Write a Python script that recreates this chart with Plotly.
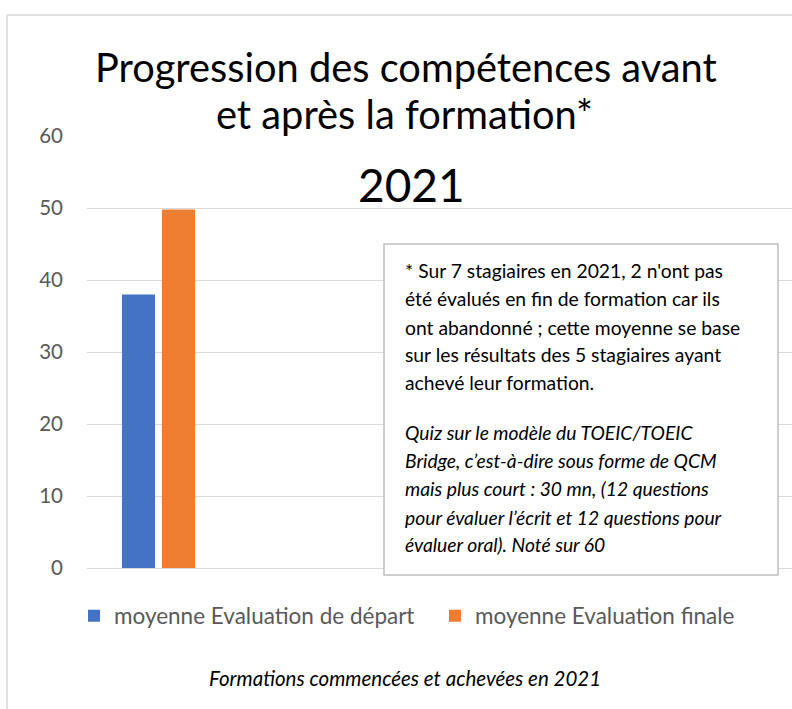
import plotly.graph_objects as go

# ---- data ----
categories = ["2021"]
series_names = ["moyenne Evaluation de départ", "moyenne Evaluation finale"]
depart_values = [38.0]
finale_values = [49.8]
y_ticks = [0, 10, 20, 30, 40, 50, 60]

title_lines = ["Progression des compétences avant", "et après la formation*"]
subtitle = "2021"
note_lines = [
    "* Sur 7 stagiaires en 2021, 2 n'ont pas",
    "été évalués en fin de formation car ils",
    "ont abandonné ; cette moyenne se base",
    "sur les résultats des 5 stagiaires ayant",
    "achevé leur formation.",
]
note_italic_lines = [
    "Quiz sur le modèle du TOEIC/TOEIC",
    "Bridge, c’est-à-dire sous forme de QCM",
    "mais plus court : 30 mn, (12 questions",
    "pour évaluer l’écrit et 12 questions pour",
    "évaluer oral). Noté sur 60",
]
footer = "Formations commencées et achevées en 2021"

# ---- layout geometry (pixels) ----
W, H = 792, 709
ML, MR, MT, MB = 87, 0, 136, 141
PW, PH = W - ML - MR, H - MT - MB


def px(x):
    return (x - ML) / PW


def py(y):
    return (H - MB - y) / PH


FONT = "Lato"
BLUE = "#4472C4"
ORANGE = "#ED7D31"
GREY = "#595959"
GRID = "#D9D9D9"

fig = go.Figure()
fig.add_trace(go.Bar(x=categories, y=depart_values, name=series_names[0],
                     marker=dict(color=BLUE, line=dict(width=0))))
fig.add_trace(go.Bar(x=categories, y=finale_values, name=series_names[1],
                     marker=dict(color=ORANGE, line=dict(width=0))))

annotations = []
# title
annotations.append(dict(text=title_lines[0], x=px(406), y=py(67), xref="paper", yref="paper",
                        showarrow=False, xanchor="center", yanchor="middle",
                        font=dict(family=FONT, size=39.8, color="#000000")))
annotations.append(dict(text=title_lines[1], x=px(404), y=py(113), xref="paper", yref="paper",
                        showarrow=False, xanchor="center", yanchor="middle",
                        font=dict(family=FONT, size=39.8, color="#000000")))
annotations.append(dict(text=subtitle, x=px(411), y=py(184), xref="paper", yref="paper",
                        showarrow=False, xanchor="center", yanchor="middle",
                        font=dict(family=FONT, size=46, color="#000000")))

# note box text
note_y = [270, 298, 327, 354, 382]
italic_y = [432, 460, 488, 517, 544]
for t, yy in zip(note_lines, note_y):
    annotations.append(dict(text=t, x=px(403), y=py(yy), xref="paper", yref="paper",
                            showarrow=False, xanchor="left", yanchor="middle",
                            font=dict(family=FONT, size=19.3, color="#000000")))
for t, yy in zip(note_italic_lines, italic_y):
    annotations.append(dict(text="<i>" + t + "</i>", x=px(403), y=py(yy), xref="paper", yref="paper",
                            showarrow=False, xanchor="left", yanchor="middle",
                            font=dict(family=FONT, size=19.3, color="#000000")))

# footer
annotations.append(dict(text="<i>" + footer + "</i>", x=px(405), y=py(678), xref="paper", yref="paper",
                        showarrow=False, xanchor="center", yanchor="middle",
                        font=dict(family=FONT, size=20.5, color="#000000")))

shapes = [
    # note box
    dict(type="rect", xref="paper", yref="paper", x0=px(384), x1=px(778), y0=py(575), y1=py(244),
         line=dict(color="#BFBFBF", width=1.5), fillcolor="#FFFFFF", layer="above"),
    # outer chart border (left and top)
    dict(type="line", xref="paper", yref="paper", x0=px(7), x1=px(7), y0=py(15), y1=py(720),
         line=dict(color=GRID, width=1.5)),
    dict(type="line", xref="paper", yref="paper", x0=px(7), x1=px(800), y0=py(15), y1=py(15),
         line=dict(color=GRID, width=1.5)),
]

fig.update_layout(
    width=W, height=H,
    margin=dict(l=ML, r=MR, t=MT, b=MB, autoexpand=False),
    paper_bgcolor="#FFFFFF", plot_bgcolor="#FFFFFF",
    barmode="group", bargap=0.44, bargroupgap=0.175,
    showlegend=True,
    legend=dict(orientation="h", x=px(74), xanchor="left", y=py(616), yanchor="middle",
                font=dict(family=FONT, size=22.5, color=GREY),
                entrywidth=316, entrywidthmode="pixels", itemclick=False),
    annotations=annotations,
    shapes=shapes,
    font=dict(family=FONT),
)
fig.update_xaxes(range=[-0.5, 4.43], showticklabels=False, showgrid=False, zeroline=False,
                 showline=False, ticks="")
fig.update_yaxes(range=[0, 60], tickvals=y_ticks, showgrid=True, gridcolor=GRID, gridwidth=1.3,
                 zeroline=True, zerolinecolor=GRID, zerolinewidth=1.3, showline=False,
                 tickfont=dict(family=FONT, size=20.5, color=GREY), ticks="", ticklabelstandoff=23)

fig.write_html("out.html", config={"displayModeBar": False},
               post_script="document.body.style.margin='0';document.body.style.overflow='hidden';")
